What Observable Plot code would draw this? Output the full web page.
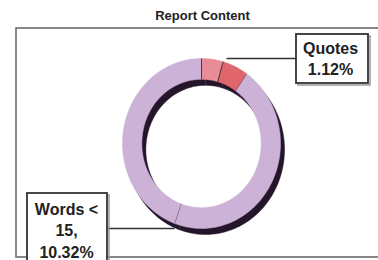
<!DOCTYPE html>
<html>
<head>
<meta charset="utf-8">
<script src="https://cdn.jsdelivr.net/npm/d3@7"></script>
<script src="https://cdn.jsdelivr.net/npm/@observablehq/plot@0.6"></script>
<style>
  html, body { margin: 0; padding: 0; background: #fff; }
  #chart svg { display: block; }
</style>
</head>
<body>
<div id="chart"></div>
<script>
// ---- data ----
const chartTitle = "Report Content";
const sliceNames = ["Quotes", "Quotes (rest)", "Other", "Words < 15"];
const sliceValues = [4.4, 5.3, 45.8, 44.5];
const sliceColors = ["#e88c98", "#e0666c", "#cbb2d6", "#cbb2d6"];
const calloutTexts = ["Quotes\n1.12%", "Words <\n15,\n10.32%"];

// ---- layout (pixels) ----
const W = 378, H = 260;
const cx = 201, cy = 143, rx = 79, ry = 85;
const innerR = 0.755;
const ux = p => (p - cx) / rx;
const uy = p => (cy - p) / ry;

const slices = sliceNames.map((name, i) => ({name, value: sliceValues[i]}));
const arcs = d3.pie().sort(null).value(d => d.value).startAngle(0).endAngle(2 * Math.PI)(slices);

function ringPoints(offX, offY) {
  const pts = [];
  for (const a of arcs) {
    const n = Math.max(4, Math.ceil((a.endAngle - a.startAngle) / 0.02));
    for (let k = 0; k <= n; k++) {
      const t = a.startAngle + (a.endAngle - a.startAngle) * k / n;
      pts.push({name: a.data.name, x: Math.sin(t) + offX, y: Math.cos(t) + offY});
    }
    for (let k = n; k >= 0; k--) {
      const t = a.startAngle + (a.endAngle - a.startAngle) * k / n;
      pts.push({name: a.data.name, x: innerR * Math.sin(t) + offX, y: innerR * Math.cos(t) + offY});
    }
  }
  return pts;
}

const mainPts = ringPoints(0, 0);
const shadowPts = ringPoints(4 / rx, -6 / ry);
const ticks = arcs.map(a => ({
  x1: innerR * Math.sin(a.startAngle), y1: innerR * Math.cos(a.startAngle),
  x2: Math.sin(a.startAngle), y2: Math.cos(a.startAngle),
  strong: a.index < 2
}));

const frameBox = [{x1: ux(16), x2: ux(400), y1: uy(28), y2: uy(257)}];
const boxes = [
  {x1: ux(296), x2: ux(368), y1: uy(34), y2: uy(83)},
  {x1: ux(27), x2: ux(107), y1: uy(193), y2: uy(275)}
];
const leaders = [
  {x1: ux(226), y1: uy(58), x2: ux(296), y2: uy(58)},
  {x1: ux(107), y1: uy(228), x2: ux(174), y2: uy(228)}
];
const labels = [
  {text: calloutTexts[0], x: ux(330), y: uy(57)},
  {text: calloutTexts[1], x: ux(66), y: uy(229)}
];

const font = "'Liberation Sans', Arial, sans-serif";

const chart = Plot.plot({
  width: W, height: H, margin: 0,
  x: {domain: [-1, 1], range: [cx - rx, cx + rx], axis: null},
  y: {domain: [-1, 1], range: [cy + ry, cy - ry], axis: null},
  color: {domain: sliceNames, range: sliceColors},
  style: {background: "#fff", fontFamily: font},
  marks: [
    Plot.rect(frameBox, {x1: "x1", x2: "x2", y1: "y1", y2: "y2", fill: "none", stroke: "#6a6a6a", strokeWidth: 1.6}),
    Plot.line(shadowPts, {x: "x", y: "y", z: "name", fill: "#24152a", stroke: "#24152a", strokeWidth: 0.5}),
    Plot.line(mainPts, {x: "x", y: "y", z: "name", fill: "name", stroke: "name", strokeWidth: 0.5}),
    Plot.link(ticks, {x1: "x1", y1: "y1", x2: "x2", y2: "y2", stroke: "#3a2430", strokeWidth: 1,
      strokeOpacity: d => d.strong ? 0.85 : 0.35}),
    Plot.link(leaders, {x1: "x1", y1: "y1", x2: "x2", y2: "y2", stroke: "#333", strokeWidth: 1.5}),
    Plot.rect(boxes, {x1: d => d.x1 + 2 / rx, x2: d => d.x2 + 2 / rx, y1: d => d.y1 - 2 / ry, y2: d => d.y2 - 2 / ry,
      fill: "none", stroke: "#999", strokeWidth: 1.5}),
    Plot.rect(boxes, {x1: "x1", x2: "x2", y1: "y1", y2: "y2", fill: "#fff", stroke: "#333", strokeWidth: 1.8}),
    Plot.text(labels, {x: "x", y: "y", text: "text", fontSize: 16, fontWeight: "bold", fill: "#222", lineHeight: 1.33}),
    Plot.text([chartTitle], {x: ux(202), y: uy(15), text: d => d, fontSize: 13, fontWeight: "bold", fill: "#222"})
  ]
});
document.getElementById("chart").append(chart);
</script>
</body>
</html>
